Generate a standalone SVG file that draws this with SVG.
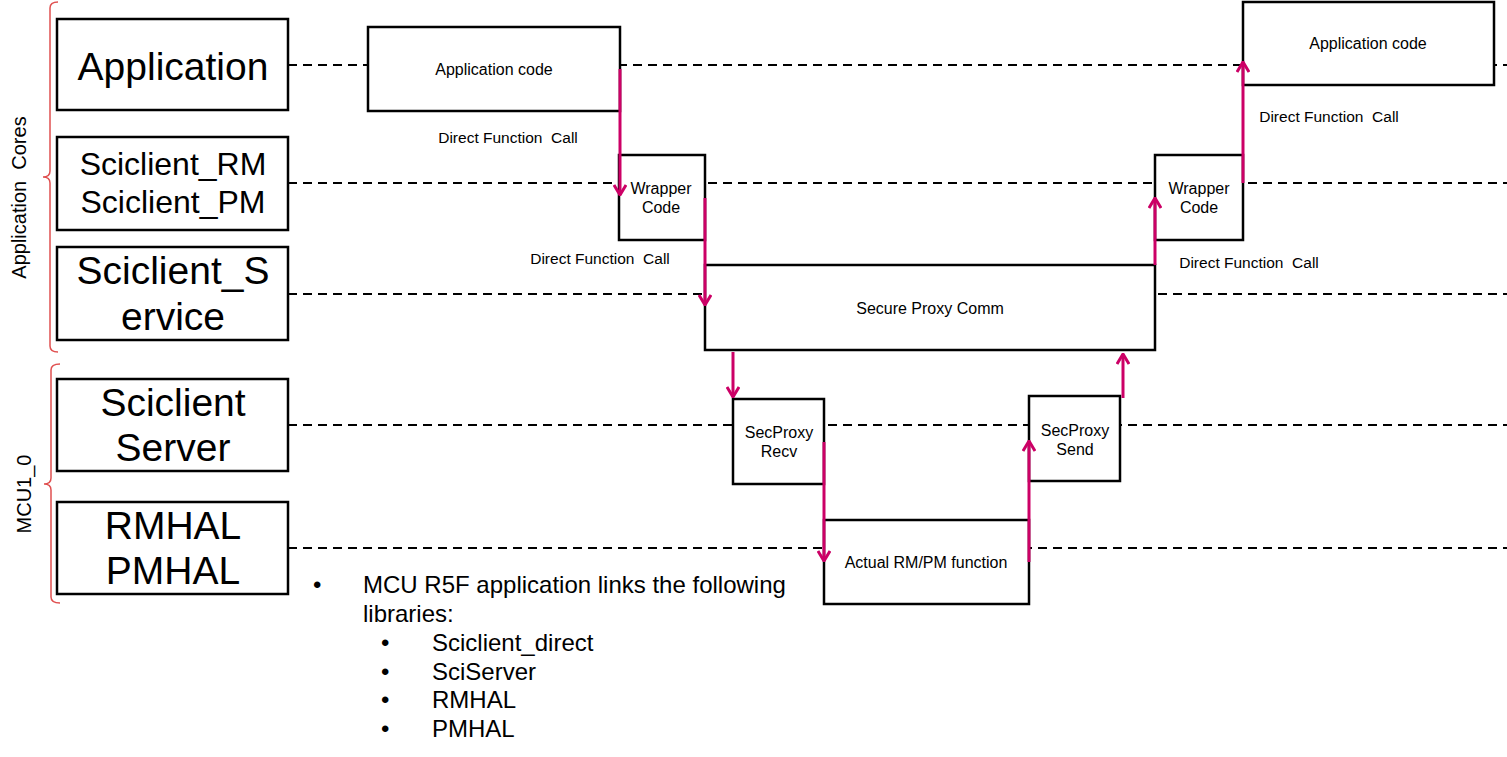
<svg xmlns="http://www.w3.org/2000/svg" width="1507" height="757" viewBox="0 0 1507 757">
<style>
text{font-family:"Liberation Sans",Arial,sans-serif;fill:#000}
.big{font-size:39px;text-anchor:middle}
.mid{font-size:32px;text-anchor:middle}
.lbl{font-size:16px;text-anchor:middle}
.dfc{font-size:15.5px;text-anchor:middle}
.side{font-size:20px;text-anchor:middle}
.bul{font-size:24px}
.box{fill:#fff;stroke:#000;stroke-width:2.5}
.dash{stroke:#000;stroke-width:2;stroke-dasharray:9 6;fill:none}
.brace{fill:none;stroke:#e05050;stroke-width:1.5}
.arr{stroke:#cc0066;stroke-width:3;fill:none;marker-end:url(#ah)}
</style>
<defs>
<marker id="ah" viewBox="0 0 12 14" refX="11" refY="7" markerWidth="12" markerHeight="14" markerUnits="userSpaceOnUse" orient="auto">
<path d="M1,1 L11,7 L1,13" fill="none" stroke="#cc0066" stroke-width="3"/>
</marker>
</defs>
<rect width="1507" height="757" fill="#fff"/>
<g id="lifelines">
<line class="dash" x1="288" y1="65" x2="1507" y2="65"/>
<line class="dash" x1="288" y1="183" x2="1507" y2="183"/>
<line class="dash" x1="288" y1="294" x2="1507" y2="294"/>
<line class="dash" x1="288" y1="425" x2="1507" y2="425"/>
<line class="dash" x1="288" y1="548" x2="1507" y2="548"/>
</g>
<g id="group-app-cores">
<path class="brace" d="M58,2 Q50,2 50,8 L50,171 Q50,177 43,177 Q50,177 50,183 L50,346 Q50,352 58,352"/>
<text class="side" transform="translate(26,197.5) rotate(-90)" xml:space="preserve">Application  Cores</text>
</g>
<g id="group-mcu">
<path class="brace" d="M60,364 Q51,364 51,370 L51,478 Q51,484 44,484 Q51,484 51,490 L51,597 Q51,603 60,603"/>
<text class="side" transform="translate(31,494) rotate(-90)">MCU1_0</text>
</g>
<g id="lane-application">
<rect class="box" x="57" y="19" width="231" height="91"/>
<text class="big" x="173" y="80">Application</text>
</g>
<g id="lane-sciclient-rmpm">
<rect class="box" x="57" y="137" width="231" height="93"/>
<text class="mid" x="173" y="175">Sciclient_RM</text>
<text class="mid" x="173" y="213">Sciclient_PM</text>
</g>
<g id="lane-sciclient-service">
<rect class="box" x="57" y="247" width="231" height="93"/>
<text class="big" x="173" y="284">Sciclient_S</text>
<text class="big" x="173" y="330">ervice</text>
</g>
<g id="lane-sciclient-server">
<rect class="box" x="57" y="379" width="231" height="92"/>
<text class="big" x="173" y="416">Sciclient</text>
<text class="big" x="173" y="461">Server</text>
</g>
<g id="lane-hal">
<rect class="box" x="57" y="502" width="231" height="92"/>
<text class="big" x="173" y="539">RMHAL</text>
<text class="big" x="173" y="584">PMHAL</text>
</g>
<g id="app-code-left">
<rect class="box" x="368" y="27" width="252" height="84"/>
<text class="lbl" x="494" y="75">Application code</text>
</g>
<g id="wrapper-left">
<rect class="box" x="619" y="155" width="86" height="85"/>
<text class="lbl" x="661" y="194">Wrapper</text>
<text class="lbl" x="661" y="213">Code</text>
</g>
<g id="secure-proxy">
<rect class="box" x="705" y="265" width="450" height="85"/>
<text class="lbl" x="930" y="314">Secure Proxy Comm</text>
</g>
<g id="secproxy-recv">
<rect class="box" x="733" y="399" width="91" height="85"/>
<text class="lbl" x="779" y="438">SecProxy</text>
<text class="lbl" x="779" y="457">Recv</text>
</g>
<g id="actual-function">
<rect class="box" x="824" y="520" width="205" height="84"/>
<text class="lbl" x="926" y="568">Actual RM/PM function</text>
</g>
<g id="secproxy-send">
<rect class="box" x="1029" y="396" width="91" height="85"/>
<text class="lbl" x="1075" y="436">SecProxy</text>
<text class="lbl" x="1075" y="455">Send</text>
</g>
<g id="wrapper-right">
<rect class="box" x="1155" y="155" width="88" height="85"/>
<text class="lbl" x="1199" y="194">Wrapper</text>
<text class="lbl" x="1199" y="213">Code</text>
</g>
<g id="app-code-right">
<rect class="box" x="1243" y="2" width="251" height="83"/>
<text class="lbl" x="1368" y="49">Application code</text>
</g>
<g id="connectors">
<line class="arr" x1="620" y1="69" x2="620" y2="195"/>
<line class="arr" x1="705" y1="198" x2="705" y2="305"/>
<line class="arr" x1="733" y1="352" x2="733" y2="397"/>
<line class="arr" x1="824" y1="442" x2="824" y2="561"/>
<line class="arr" x1="1029" y1="562" x2="1029" y2="441"/>
<line class="arr" x1="1123" y1="398" x2="1123" y2="354"/>
<line class="arr" x1="1155" y1="265" x2="1155" y2="198"/>
<line class="arr" x1="1243" y1="183" x2="1243" y2="62"/>
</g>
<g id="connector-labels">
<text class="dfc" x="508" y="143" xml:space="preserve">Direct Function  Call</text>
<text class="dfc" x="600" y="264" xml:space="preserve">Direct Function  Call</text>
<text class="dfc" x="1329" y="122" xml:space="preserve">Direct Function  Call</text>
<text class="dfc" x="1249" y="268" xml:space="preserve">Direct Function  Call</text>
</g>
<g id="notes">
<text class="bul" x="313" y="593">•</text>
<text class="bul" x="363" y="593">MCU R5F application links the following</text>
<text class="bul" x="363" y="622">libraries:</text>
<text class="bul" x="381" y="651">•</text>
<text class="bul" x="432" y="651">Sciclient_direct</text>
<text class="bul" x="381" y="680">•</text>
<text class="bul" x="432" y="680">SciServer</text>
<text class="bul" x="381" y="708">•</text>
<text class="bul" x="432" y="708">RMHAL</text>
<text class="bul" x="381" y="737">•</text>
<text class="bul" x="432" y="737">PMHAL</text>
</g>
</svg>
